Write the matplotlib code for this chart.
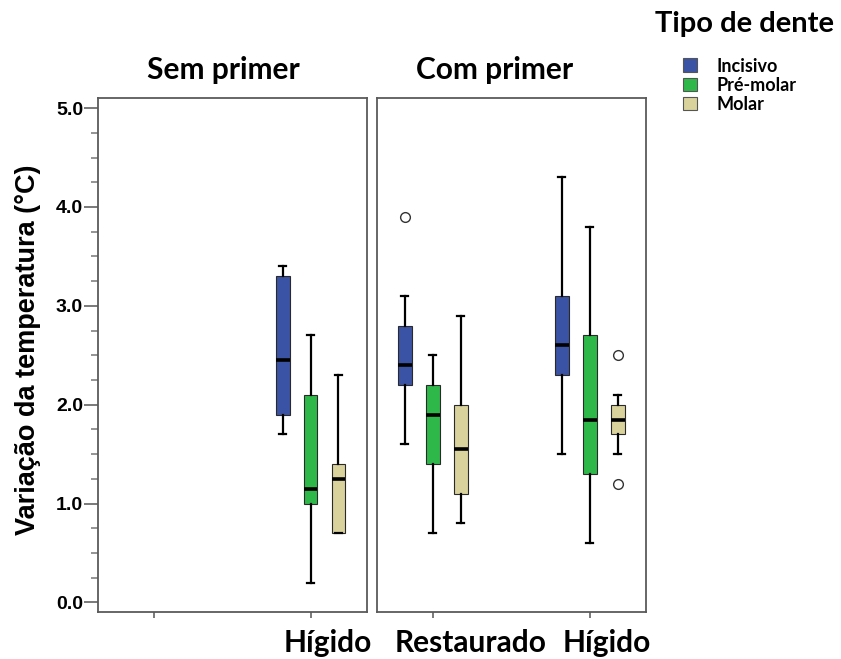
import matplotlib
matplotlib.use("Agg")
import matplotlib.pyplot as plt
from matplotlib.patches import Patch
from matplotlib.ticker import MultipleLocator

# categories and groups
groups = ["Restaurado", "Hígido"]
tooth_types = ["Incisivo", "Pré-molar", "Molar"]
colors = ["#3b53a4", "#2eb84a", "#d9d29c"]

# five-number summaries: [whislo, q1, med, q3, whishi] per tooth type
sem_higido = [
    [1.70, 1.90, 2.45, 3.30, 3.40],
    [0.20, 1.00, 1.15, 2.10, 2.70],
    [0.70, 0.70, 1.25, 1.40, 2.30],
]
com_restaurado = [
    [1.60, 2.20, 2.40, 2.80, 3.10],
    [0.70, 1.40, 1.90, 2.20, 2.50],
    [0.80, 1.10, 1.55, 2.00, 2.90],
]
com_higido = [
    [1.50, 2.30, 2.60, 3.10, 4.30],
    [0.60, 1.30, 1.85, 2.70, 3.80],
    [1.50, 1.70, 1.85, 2.00, 2.10],
]
com_restaurado_fliers = [[3.9], [], []]
com_higido_fliers = [[], [], [2.5, 1.2]]
sem_higido_fliers = [[], [], []]

# panel content: list of (group index, summaries, fliers)
sem_primer = [(1, sem_higido, sem_higido_fliers)]
com_primer = [(0, com_restaurado, com_restaurado_fliers),
              (1, com_higido, com_higido_fliers)]

offsets = [-0.178, 0.0, 0.178]
box_w = 0.087
cap_w = 0.045

LATO = "Lato"
ARIAL = "Liberation Sans"


def draw_panel(ax, content):
    for gi, summaries, fliers in content:
        for ti, (s, fl) in enumerate(zip(summaries, fliers)):
            stats = [{"whislo": s[0], "q1": s[1], "med": s[2], "q3": s[3],
                      "whishi": s[4], "fliers": fl}]
            ax.bxp(stats, positions=[gi + offsets[ti]], widths=box_w,
                   capwidths=cap_w, patch_artist=True, manage_ticks=False,
                   boxprops=dict(facecolor=colors[ti], edgecolor="#2a2a2a", linewidth=0.8),
                   medianprops=dict(color="black", linewidth=2.6),
                   whiskerprops=dict(color="black", linewidth=1.6),
                   capprops=dict(color="black", linewidth=1.6),
                   flierprops=dict(marker="o", markerfacecolor="white",
                                   markeredgecolor="#333333", markersize=7,
                                   markeredgewidth=1.0))
    ax.set_xlim(-0.355, 1.358)
    ax.set_ylim(-0.10, 5.10)
    ax.set_xticks([0, 1])
    ax.set_xticklabels([])
    ax.tick_params(axis="x", length=4, width=1.1, color="#555555")
    for sp in ax.spines.values():
        sp.set_color("#5a5a5a")
        sp.set_linewidth(1.3)


fig = plt.figure(figsize=(8.41, 6.59), dpi=100)
ax1 = fig.add_axes([0.1169, 0.0709, 0.3191, 0.780])
ax2 = fig.add_axes([0.4483, 0.0709, 0.3199, 0.780])

draw_panel(ax1, sem_primer)
draw_panel(ax2, com_primer)

# y axis on the left panel only
ax1.yaxis.set_major_locator(MultipleLocator(1.0))
ax1.yaxis.set_minor_locator(MultipleLocator(0.25))
ax1.set_yticks([0, 1, 2, 3, 4, 5])
ax1.set_yticklabels([f"{v:.1f}" for v in [0, 1, 2, 3, 4, 5]],
                    fontfamily=ARIAL, fontweight="bold", fontsize=14)
ax1.tick_params(axis="y", which="major", length=10, width=1.1, color="#555555", pad=1)
ax1.tick_params(axis="y", which="minor", length=5, width=1.1, color="#777777")
ax2.tick_params(axis="y", which="both", left=False, labelleft=False)

ax1.text(-0.262, 0.51, "Variação da temperatura (°C)", transform=ax1.transAxes,
         rotation=90, ha="center", va="center", fontfamily=ARIAL,
         fontweight="bold", fontsize=19.5)

# panel titles
ax1.text(0.466, 1.0375, "Sem primer", transform=ax1.transAxes, ha="center",
         va="baseline", fontfamily=LATO, fontweight="bold", fontsize=21.5)
ax2.text(0.437, 1.0375, "Com primer", transform=ax2.transAxes, ha="center",
         va="baseline", fontfamily=LATO, fontweight="bold", fontsize=21.5)

# category labels under the panels
label_shift = {"Restaurado": 27.5, "Hígido": 12.0}
for ax, content in [(ax1, sem_primer), (ax2, com_primer)]:
    for gi, _, _ in content:
        name = groups[gi]
        ax.annotate(name, xy=(gi, 0), xycoords=("data", "axes fraction"),
                    xytext=(label_shift[name], -28.5), textcoords="offset points",
                    ha="center", va="baseline", fontfamily=LATO,
                    fontweight="bold", fontsize=21.5, annotation_clip=False)

# legend
fig.text(0.779, 1 - 32 / 659, "Tipo de dente", ha="left", va="baseline",
         fontfamily=LATO, fontweight="bold", fontsize=21)
handles = [Patch(facecolor=c, edgecolor="#555555", linewidth=0.8) for c in colors]
fig.legend(handles, tooth_types, loc="upper left",
           bbox_to_anchor=(683 / 841, 1 - 57.5 / 659), frameon=False,
           borderpad=0, borderaxespad=0, handlelength=0.78, handleheight=0.78,
           handletextpad=1.1, labelspacing=0.12,
           prop=dict(family=LATO, weight="bold", size=13))

fig.savefig("out.png", dpi=100)
